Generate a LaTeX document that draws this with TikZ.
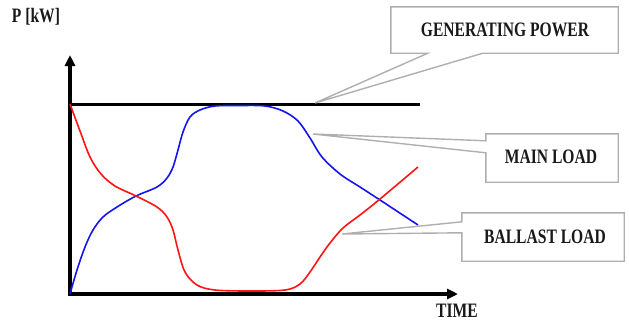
\documentclass[tikz,border=0pt]{standalone}
\usepackage{fontspec}
\setmainfont{Liberation Serif}
\usetikzlibrary{arrows.meta,calc}
\definecolor{cgray}{RGB}{175,175,175}
\definecolor{cred}{RGB}{255,20,20}
\definecolor{cblue}{RGB}{20,20,240}
\tikzset{
  lbl/.style={font=\bfseries\fontsize{20.5}{20.5}\selectfont, inner sep=0pt, text=black!90},
  axis/.style={line width=3.2pt, -{Triangle[length=11pt,width=10pt]}},
  genline/.style={line width=3pt},
  curve/.style={line width=1.6pt, line join=round},
  calloutbox/.style={draw=cgray, line width=1.4pt, line join=miter},
  boxnode/.style={draw=none, inner sep=0pt},
}
\newcommand{\sq}[1]{\scalebox{0.76}[1]{#1}}
\begin{document}
\begin{tikzpicture}[x=1pt,y=-1pt]
\useasboundingbox (0,0) rectangle (629,322);
% axes
\coordinate (O) at (70,294);
\coordinate (ytop) at (70,55);
\coordinate (xend) at (458,294);
\draw[axis] (70,296) -- (ytop);
\draw[axis] (68.5,294) -- (xend);
% generating power line
\coordinate (g0) at (70,104);
\coordinate (g1) at (420,104);
\draw[genline] (g0) -- (g1);
% blue main load
\draw[curve, cblue] plot[smooth, tension=0.55] coordinates {
 (70,294) (77,270) (85,247) (93,230) (103,217) (117,207) (136,196) (157,187)
 (167,178) (173,167) (178,150) (183,132) (190,117) (200,110) (215,106)
 (240,105.5) (265,106) (283,111) (298,121) (310,138) (322,157) (340,174)
 (360,187) (380,200) (418,225)};
% red ballast load
\draw[curve, cred] plot[smooth, tension=0.55] coordinates {
 (70,104) (80,131) (90,157) (101,174) (115,186) (136,196) (157,207)
 (167,217) (173,230) (178,250) (185,272) (197,285) (215,290) (250,291)
 (285,290) (300,284) (310,272) (320,257) (330,243) (343,228) (360,215)
 (380,199) (418,167)};
% labels
\node[lbl] (p) at (36,17) {\sq{P [kW]}};
\node[lbl] (t) at (457,311) {\sq{TIME}};
% generating power callout
\node[boxnode, minimum width=227pt, minimum height=46pt] (gb) at (504.5,30) {};
\node[lbl] (gt) at (505,30) {\sq{GENERATING POWER}};
\coordinate (gtip) at (315,103);
\draw[calloutbox] (gb.south west) -- (gb.north west) -- (gb.north east) -- (gb.south east)
  -- ([xshift=92pt]gb.south west) -- (gtip) -- ([xshift=37pt]gb.south west) -- cycle;
% main load callout
\node[boxnode, minimum width=132pt, minimum height=48pt] (mb) at (552,158) {};
\node[lbl] (mt) at (551,157) {\sq{MAIN LOAD}};
\coordinate (mtip) at (313,134);
\draw[calloutbox] (mb.north west) -- (mb.north east) -- (mb.south east) -- (mb.south west)
  -- ([yshift=-19pt]mb.north west) -- (mtip) -- ([yshift=-7pt]mb.north west) -- cycle;
% ballast load callout
\node[boxnode, minimum width=162pt, minimum height=48pt] (bb) at (543,237) {};
\node[lbl] (bt) at (545,237) {\sq{BALLAST LOAD}};
\coordinate (btip) at (342,234);
\draw[calloutbox] (bb.north west) -- (bb.north east) -- (bb.south east) -- (bb.south west)
  -- ([yshift=-20pt]bb.north west) -- (btip) -- ([yshift=-9pt]bb.north west) -- cycle;
\end{tikzpicture}
\end{document}
